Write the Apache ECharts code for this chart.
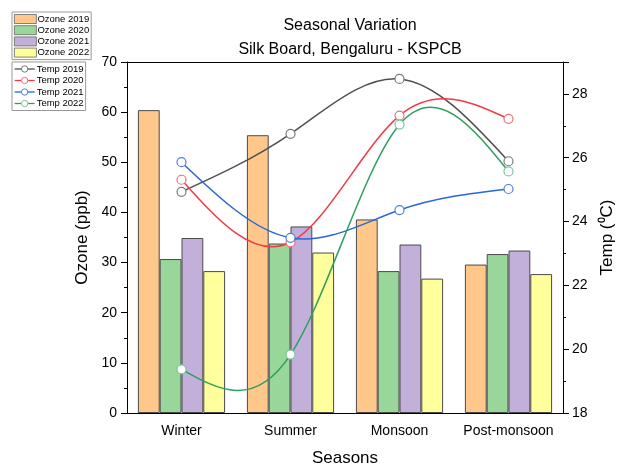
<!DOCTYPE html>
<html><head><meta charset="utf-8">
<script src="https://cdn.jsdelivr.net/npm/echarts@6/dist/echarts.min.js"></script>
<style>html,body{margin:0;padding:0;background:#fff}#c{width:627px;height:473px}</style>
</head><body><div id="c"></div>
<script>
var seasons = ['Winter', 'Summer', 'Monsoon', 'Post-monsoon'];
var ozone2019 = [60.4, 55.4, 38.6, 29.6];
var ozone2020 = [30.7, 33.8, 28.3, 31.7];
var ozone2021 = [34.9, 37.2, 33.6, 32.4];
var ozone2022 = [28.3, 32.0, 26.8, 27.7];
var temp2019 = [24.93, 26.75, 28.47, 25.89];
var temp2020 = [25.31, 23.35, 27.32, 27.22];
var temp2021 = [25.86, 23.49, 24.36, 25.02];
var temp2022 = [19.37, 19.83, 27.04, 25.57];

var FONT = 'Liberation Sans, Arial, sans-serif';
var chart = echarts.init(document.getElementById('c'), null, {renderer: 'canvas'});

function bar(name, data, color) {
  return {name: name, type: 'bar', data: data, xAxisIndex: 0, yAxisIndex: 0,
    barGap: '0%', barCategoryGap: '20%',
    itemStyle: {color: color, borderColor: '#4a4a4a', borderWidth: 1}, z: 2};
}
// natural cubic spline through the points, drawn as bezier segments in pixel space
function splineCurve(name, values, color) {
  return {name: name, type: 'custom', xAxisIndex: 0, yAxisIndex: 1, z: 4,
    data: values.map(function (v, i) { return [i, v]; }),
    renderItem: function (params, api) {
      var i = params.dataIndex, n = values.length;
      if (i >= n - 1) return null;
      var P = values.map(function (v, k) { return api.coord([k, v]); });
      var h = P[1][0] - P[0][0];
      var y = P.map(function (p) { return p[1]; });
      var M = new Array(n).fill(0);
      var m = n - 2;
      if (m > 0) {
        var a = [], b = [], c = [], d = [];
        for (var k = 1; k <= m; k++) {
          a.push(1); b.push(4); c.push(1);
          d.push(6 * (y[k + 1] - 2 * y[k] + y[k - 1]) / (h * h));
        }
        for (var k2 = 1; k2 < m; k2++) {
          var w = a[k2] / b[k2 - 1];
          b[k2] -= w * c[k2 - 1]; d[k2] -= w * d[k2 - 1];
        }
        var sol = new Array(m);
        sol[m - 1] = d[m - 1] / b[m - 1];
        for (var k3 = m - 2; k3 >= 0; k3--) sol[k3] = (d[k3] - c[k3] * sol[k3 + 1]) / b[k3];
        for (var k4 = 0; k4 < m; k4++) M[k4 + 1] = sol[k4];
      }
      function slope(k) {
        if (k < n - 1) return (y[k + 1] - y[k]) / h - h * (2 * M[k] + M[k + 1]) / 6;
        return (y[k] - y[k - 1]) / h + h * (M[k - 1] + 2 * M[k]) / 6;
      }
      var s0 = slope(i), s1 = slope(i + 1);
      return {type: 'bezierCurve', silent: true,
        shape: {x1: P[i][0], y1: y[i], x2: P[i + 1][0], y2: y[i + 1],
          cpx1: P[i][0] + h / 3, cpy1: y[i] + s0 * h / 3,
          cpx2: P[i + 1][0] - h / 3, cpy2: y[i + 1] - s1 * h / 3},
        style: {fill: null, stroke: color, lineWidth: 1.5}};
    }};
}
function markers(name, data, mcolor) {
  return {name: name, type: 'line', data: data, xAxisIndex: 0, yAxisIndex: 1,
    symbol: 'circle', symbolSize: 9, showAllSymbol: true,
    lineStyle: {opacity: 0},
    itemStyle: {color: '#fff', borderColor: mcolor, borderWidth: 1.2}, z: 5};
}
var lineColors = ['#505050', '#F23A45', '#2B66D4', '#2E9E5E'];
var markColors = ['#7a7a7a', '#F07078', '#4F80D8', '#7CC69A'];
var tempNames = ['Temp 2019', 'Temp 2020', 'Temp 2021', 'Temp 2022'];
var temps = [temp2019, temp2020, temp2021, temp2022];

var axisLineStyle = {color: '#000', width: 1};
var series = [
  bar('Ozone 2019', ozone2019, '#FFC78A'),
  bar('Ozone 2020', ozone2020, '#98D69A'),
  bar('Ozone 2021', ozone2021, '#C3B0DA'),
  bar('Ozone 2022', ozone2022, '#FFFF9C')
];
temps.forEach(function (t, k) {
  series.push(markers(tempNames[k], t, markColors[k]));
});
temps.forEach(function (t, k) {
  series.push(splineCurve(tempNames[k], t, lineColors[k]));
});

chart.setOption({
  animation: false,
  backgroundColor: '#fff',
  textStyle: {fontFamily: FONT},
  title: {
    text: 'Seasonal Variation\nSilk Board, Bengaluru - KSPCB',
    left: 345, top: 9, textAlign: 'center',
    textStyle: {fontFamily: FONT, fontSize: 16, fontWeight: 'normal', color: '#000', lineHeight: 24}
  },
  legend: [{
    data: ['Ozone 2019', 'Ozone 2020', 'Ozone 2021', 'Ozone 2022'],
    orient: 'vertical', left: 12, top: 12, itemWidth: 22, itemHeight: 9, itemGap: 1.2,
    icon: 'rect', borderColor: '#999', borderWidth: 1, padding: [2, 2, 2, 2],
    itemStyle: {borderColor: '#666', borderWidth: 0.8},
    textStyle: {fontFamily: FONT, fontSize: 9.5, lineHeight: 9, color: '#000', padding: [0, 0, 0, -4]}
  }, {
    data: tempNames.map(function (nm, k) {
      return {name: nm,
        lineStyle: {color: lineColors[k], width: 1.3, opacity: 1},
        itemStyle: {color: '#fff', borderColor: markColors[k], borderWidth: 1}};
    }),
    orient: 'vertical', left: 12, top: 62, itemWidth: 20, itemHeight: 8, itemGap: 1.5,
    borderColor: '#999', borderWidth: 1, padding: [2, 2, 2, 2],
    textStyle: {fontFamily: FONT, fontSize: 9.5, lineHeight: 8, color: '#000', padding: [0, 0, 0, -3]}
  }],
  grid: {left: 127, right: 64, top: 62, bottom: 60},
  xAxis: [{
    type: 'category', data: seasons, position: 'bottom',
    name: 'Seasons', nameLocation: 'middle', nameGap: 37,
    nameTextStyle: {fontFamily: FONT, fontSize: 17, color: '#000'},
    axisLine: {lineStyle: axisLineStyle},
    axisTick: {alignWithLabel: true, length: 6, lineStyle: axisLineStyle},
    axisLabel: {interval: 0, fontFamily: FONT, fontSize: 14, color: '#000', margin: 11},
    splitLine: {show: false}
  }, {
    type: 'category', data: seasons, position: 'bottom',
    axisLine: {show: false},
    axisTick: {length: 3, lineStyle: axisLineStyle},
    axisLabel: {show: false}, splitLine: {show: false}
  }, {
    type: 'category', data: seasons, position: 'top',
    axisLine: {lineStyle: axisLineStyle},
    axisTick: {inside: true, length: 4, lineStyle: axisLineStyle},
    axisLabel: {show: false}, splitLine: {show: false}
  }, {
    type: 'category', data: seasons, position: 'top',
    axisLine: {show: false},
    axisTick: {inside: true, alignWithLabel: true, length: 4, lineStyle: axisLineStyle},
    axisLabel: {show: false}, splitLine: {show: false}
  }],
  yAxis: [{
    type: 'value', min: 0, max: 70, interval: 10, position: 'left',
    name: 'Ozone (ppb)', nameLocation: 'middle', nameGap: 29, nameRotate: 90,
    nameTextStyle: {fontFamily: FONT, fontSize: 17, color: '#000'},
    axisLine: {show: true, lineStyle: axisLineStyle},
    axisTick: {show: true, length: 6, lineStyle: axisLineStyle},
    minorTick: {show: true, splitNumber: 2, length: 3, lineStyle: axisLineStyle},
    axisLabel: {fontFamily: FONT, fontSize: 14, color: '#000', margin: 10},
    splitLine: {show: false}
  }, {
    type: 'value', min: 18, max: 29, interval: 2, position: 'right',
    name: 'Temp (\u2070C)', nameLocation: 'middle', nameGap: 36, nameRotate: 90,
    nameTextStyle: {fontFamily: FONT, fontSize: 17, color: '#000'},
    axisLine: {show: true, lineStyle: axisLineStyle},
    axisTick: {show: true, length: 6, lineStyle: axisLineStyle},
    minorTick: {show: true, splitNumber: 2, length: 3, lineStyle: axisLineStyle},
    axisLabel: {fontFamily: FONT, fontSize: 14, color: '#000', margin: 9, showMaxLabel: false,
      formatter: function (v) { return v === 29 ? '' : v; }},
    splitLine: {show: false}
  }],
  series: series
});
</script></body></html>
